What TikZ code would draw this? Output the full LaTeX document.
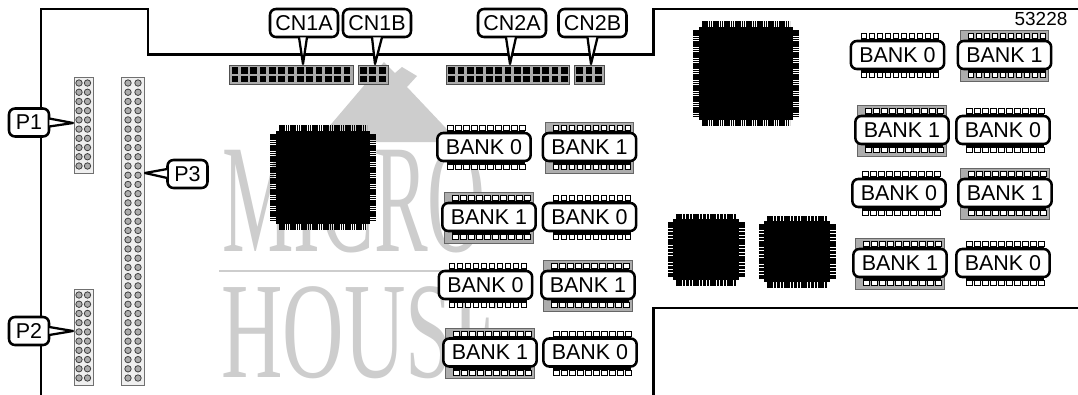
\documentclass[tikz,border=0pt]{standalone}
\usepackage{fontspec}
\setmainfont{Liberation Sans}
\newfontfamily\logofont{Liberation Serif}
\usetikzlibrary{calc}
\definecolor{logogray}{HTML}{CDCDCD}
\definecolor{hdrfill}{HTML}{EFEFEF}
\definecolor{hdredge}{HTML}{707070}
\definecolor{pinfill}{HTML}{ACACAC}
\definecolor{cnfill}{HTML}{ABABAB}
\definecolor{cnedge}{HTML}{505050}
\definecolor{bankgray}{HTML}{ADADAD}
\newcommand\pxu{0.75pt}
\tikzset{
 board/.style={line width=1.6pt,line cap=rect},
 lbl/.style={draw=black,fill=white,line width=1.9pt,rounded corners=4.5pt,inner sep=0pt,
   minimum height=21pt,font=\fontsize{16.1}{16.1}\selectfont},
 banklbl/.style={lbl,minimum width=70pt},
 ptrline/.style={line width=1.7pt,line join=round},
 hdrbox/.style={draw=hdredge,fill=hdrfill,line width=.7pt},
 hdrpin/.style={draw=black!75,fill=pinfill,line width=.6pt},
 cnbox/.style={draw=cnedge,fill=cnfill,line width=.8pt},
 bankbg/.style={draw=black!60,fill=bankgray,line width=.5pt},
 chippin/.style={black},
}
% pointer: base points relative to anchor, tip coordinate
\newcommand\ptr[6]{%
 \fill[white] ($(#1)+(#2,#3)$) -- (#6) -- ($(#1)+(#4,#5)$) -- cycle;
 \draw[ptrline] ($(#1)+(#2,#3)$) -- (#6) -- ($(#1)+(#4,#5)$);}
% memory chip: name, cx, cy, bank
\newcommand\bankchip[4]{%
 \begin{scope}[shift={(#2,#3)}]
 \ifnum#4=1 \path[bankbg] (-44.5,-24.5) rectangle (44,26);\fi
 \fill[black] (-37,-16.5) rectangle (41,-12);
 \fill[black] (-37,12) rectangle (41,17.5);
 \foreach \i in {0,...,9}{
  \draw[black,fill=white,line width=.7pt] ({-37+.6+\i*8.0},-21.5) rectangle ({-37+.6+\i*8.0+5.8},-16.5);
  \draw[black,fill=white,line width=.7pt] ({-37+.6+\i*8.0},17.5) rectangle ({-37+.6+\i*8.0+5.8},22.8);
 }
 \node[banklbl] (#1) at (0,0) {\raisebox{-.9pt}{BANK #4}};
 \end{scope}}
% QFP chip: left top right bottom of body, pin length, dash on, dash off
\newcommand\qfp[8]{%
 \fill[black] (#2,#3) rectangle (#4,#5);
 \coordinate (#1) at ({(#2+#4)/2},{(#3+#5)/2});
 \draw[chippin,line width=#6*\pxu,dash pattern=on #7pt off #8pt]
   ({#2+3},{#3-#6/2}) -- ({#4-3},{#3-#6/2});
 \draw[chippin,line width=#6*\pxu,dash pattern=on #7pt off #8pt]
   ({#2+3},{#5+#6/2}) -- ({#4-3},{#5+#6/2});
 \draw[chippin,line width=#6*\pxu,dash pattern=on #7pt off #8pt]
   ({#2-#6/2},{#3+3}) -- ({#2-#6/2},{#5-3});
 \draw[chippin,line width=#6*\pxu,dash pattern=on #7pt off #8pt]
   ({#4+#6/2},{#3+3}) -- ({#4+#6/2},{#5-3});}
% pin header: name, left, top, right, bottom, first-row y, last row index, col1, col2 given by #8 #9
\newcommand\header[9]{%
 \node[hdrbox,minimum width=0pt,inner sep=0pt,anchor=north west,minimum width={(#4-#2)*\pxu},minimum height={(#5-#3)*\pxu}] (#1) at (#2,#3) {};
 \foreach \r in {0,...,#7}{
  \draw[hdrpin] (#8,{#6+\r*9.22}) circle[radius=3.2];
  \draw[hdrpin] (#9,{#6+\r*9.22}) circle[radius=3.2];
 }}
% box connector: name, left, right, ncols-1, first col x, pitch
\newcommand\boxcn[6]{%
 \node[cnbox,inner sep=0pt,anchor=north west,minimum width={(#3-#2)*\pxu},minimum height=14.25pt] (#1) at (#2,65) {};
 \foreach \c in {0,...,#4}{
  \fill[black] ({#5+\c*#6-3.4},66.8) rectangle ({#5+\c*#6+3.4},73.6);
  \fill[black] ({#5+\c*#6-3.4},75.6) rectangle ({#5+\c*#6+3.4},82.4);
 }}
\begin{document}
\begin{tikzpicture}[x=0.75pt,y=-0.75pt]
\useasboundingbox (0,0) rectangle (1078,394);
\fill[white] (0,0) rectangle (1078,394);
% logo
\fill[logogray] (316,142) -- (384,62) -- (395,73) -- (402,67) -- (417,76) -- (407,87) -- (459,142) -- cycle;
\node[anchor=base west,inner sep=0pt,text=logogray,xscale=.52,transform shape,
  font=\logofont\fontsize{116}{116}\selectfont] (micro) at (222,251) {MICRO};
\fill[logogray] (219,269.7) rectangle (510,272.4);
\node[anchor=base west,inner sep=0pt,text=logogray,xscale=.62,transform shape,
  font=\logofont\fontsize{103}{103}\selectfont] (house) at (221,377) {HOUSE};
% board outline
\draw[board,line width=2.1pt] (41,394) -- (41,9);
\draw[board] (41,9) -- (148,9) -- (148,54.5) -- (653.5,54.5) -- (653.5,9) -- (1078,9);
\draw[board] (653.5,394) -- (653.5,308) -- (1078,308);
\node[inner sep=0pt,font=\fontsize{14.2}{14.2}\selectfont] (partno) at (1041,18.5) {53228};
% headers
\header{p1h}{74}{77}{93}{173}{83}{9}{79}{87.5}
\header{p2h}{74}{289}{93}{385}{295}{9}{79}{87.5}
\header{p3h}{121}{77}{144}{385}{83}{32}{128}{138}
% box connectors
\boxcn{cn1ah}{229}{353}{12}{235}{9.33}
\boxcn{cn1bh}{358}{388}{2}{363.3}{9.4}
\boxcn{cn2ah}{446}{569}{12}{451.5}{9.4}
\boxcn{cn2bh}{574}{604}{2}{579.5}{9.4}
% large chips
\qfp{chipa}{276}{131}{370}{224}{6}{1.15}{.5}
\qfp{chipb}{699}{27}{793}{120}{6}{1.15}{.5}
\qfp{chipc}{673}{219}{739}{280}{5.5}{1.9}{.65}
\qfp{chipd}{764}{221}{830}{282}{5.5}{1.9}{.65}
% memory modules
\bankchip{b1}{484}{147}{0}
\bankchip{b2}{589.5}{147}{1}
\bankchip{b3}{489}{217}{1}
\bankchip{b4}{589.5}{217}{0}
\bankchip{b5}{485.5}{285}{0}
\bankchip{b6}{588}{285}{1}
\bankchip{b7}{490}{352.5}{1}
\bankchip{b8}{590}{352.5}{0}
\bankchip{b9}{897.5}{55}{0}
\bankchip{b10}{1004.5}{55}{1}
\bankchip{b11}{902}{130}{1}
\bankchip{b12}{1003}{130}{0}
\bankchip{b13}{899}{193}{0}
\bankchip{b14}{1005}{193}{1}
\bankchip{b15}{900}{263}{1}
\bankchip{b16}{1003}{263}{0}
% callouts
\coordinate (t1a) at (303,64);
\coordinate (t1b) at (375,64);
\coordinate (t2a) at (510,64);
\coordinate (t2b) at (591,64);
\coordinate (tp1) at (73,123);
\coordinate (tp2) at (73,331);
\coordinate (tp3) at (145,173);
\node[lbl,minimum width=51pt] (cn1a) at (304,23) {\raisebox{-.9pt}{CN1A}};
\node[lbl,minimum width=51pt] (cn1b) at (377,23) {\raisebox{-.9pt}{CN1B}};
\node[lbl,minimum width=51pt] (cn2a) at (512,23) {\raisebox{-.9pt}{CN2A}};
\node[lbl,minimum width=51pt] (cn2b) at (592.5,23) {\raisebox{-.9pt}{CN2B}};
\node[lbl,minimum width=30pt] (p1) at (29,122.5) {\raisebox{-.9pt}{P1}};
\node[lbl,minimum width=30pt] (p2) at (29,331) {\raisebox{-.9pt}{P2}};
\node[lbl,minimum width=30pt] (p3) at (187.5,174) {\raisebox{-.9pt}{P3}};
\ptr{cn1a.south}{-5}{-1}{3}{-1}{t1a}
\ptr{cn1b.south}{-5}{-1}{5}{-1}{t1b}
\ptr{cn2a.south}{-6}{-1}{4}{-1}{t2a}
\ptr{cn2b.south}{-5}{-1}{5}{-1}{t2b}
\ptr{p1.east}{-1}{-4}{-1}{4}{tp1}
\ptr{p2.east}{-1}{-4}{-1}{4}{tp2}
\ptr{p3.west}{1}{-5}{1}{4}{tp3}
\end{tikzpicture}
\end{document}
